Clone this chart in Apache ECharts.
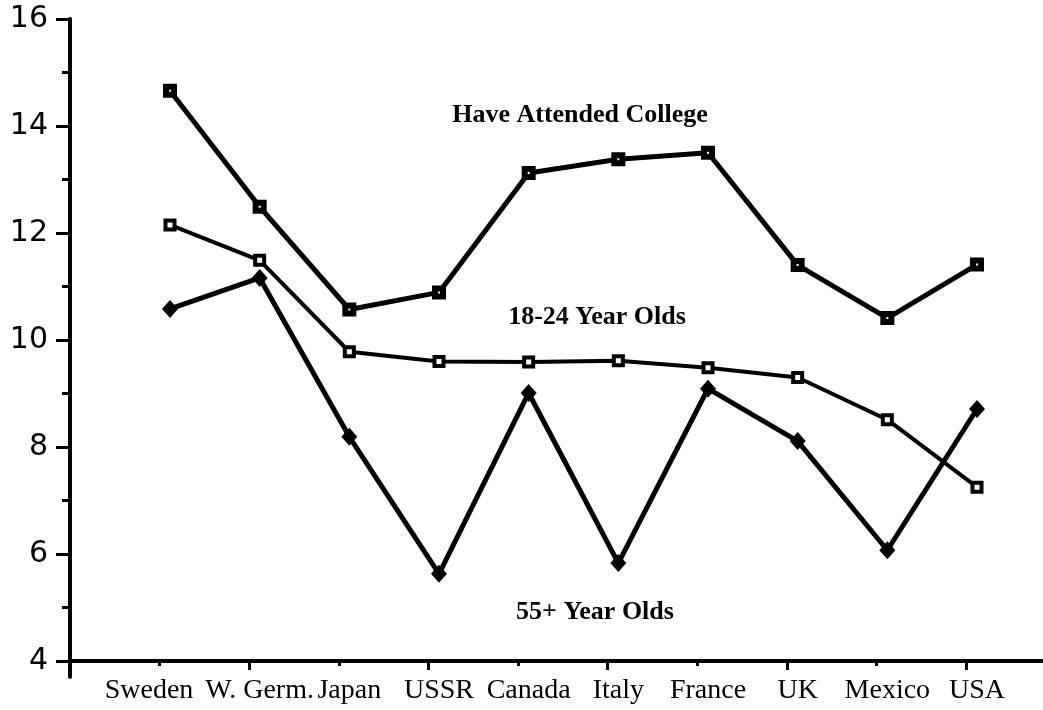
<!DOCTYPE html>
<html>
<head>
<meta charset="utf-8">
<script src="https://cdn.jsdelivr.net/npm/echarts@6/dist/echarts.min.js"></script>
<style>
html,body{margin:0;padding:0;background:#fff;}
#chart{width:1043px;height:710px;}
</style>
</head>
<body>
<div id="chart"></div>
<script>
const categories = ['Sweden', 'W. Germ.', 'Japan', 'USSR', 'Canada', 'Italy', 'France', 'UK', 'Mexico', 'USA'];
const attendedCollege = [14.66, 12.49, 10.57, 10.89, 13.12, 13.38, 13.50, 11.40, 10.41, 11.41];
const age18to24 = [12.15, 11.49, 9.78, 9.60, 9.59, 9.61, 9.48, 9.30, 8.51, 7.25];
const age55plus = [10.58, 11.16, 8.19, 5.63, 9.01, 5.83, 9.09, 8.11, 6.07, 8.71];
const yTicks = { min: 4, max: 16, interval: 2 };
const seriesNames = ['Have Attended College', '18-24 Year Olds', '55+ Year Olds'];

const chart = echarts.init(document.getElementById('chart'), null, { renderer: 'canvas' });
const black = '#000';
const gridTop = 19, gridBottom = 49;
const hiddenAxis = { axisLine: { show: false }, axisTick: { show: false }, axisLabel: { show: false }, splitLine: { show: false } };
const noteFont = 'bold 26px "Liberation Serif"';
function note(text, x, y) {
  return { type: 'text', x: x, y: y, style: { text: text, fill: black, font: noteFont,
    textAlign: 'center', textVerticalAlign: 'middle', align: 'center', verticalAlign: 'middle' } };
}

const option = {
  backgroundColor: '#fff',
  animation: false,
  grid: [
    { left: 70, right: 0, top: gridTop, bottom: gridBottom },
    { left: 170, right: 66, top: gridTop, bottom: gridBottom },
    { left: 70, right: 77, top: gridTop, bottom: gridBottom },
    { left: 70, right: 900, top: 710 - gridBottom, bottom: 33 }
  ],
  xAxis: [
    { gridIndex: 0, type: 'value', min: 0, max: 1,
      axisLine: { show: true, lineStyle: { color: black, width: 4 } },
      axisTick: { show: false }, axisLabel: { show: false }, splitLine: { show: false } },
    { gridIndex: 1, type: 'category', data: categories, boundaryGap: false,
      axisLine: { show: false }, axisTick: { show: false }, splitLine: { show: false },
      axisLabel: { show: true, interval: 0, margin: 16, color: black,
        fontFamily: 'Liberation Serif', fontSize: 28,
        formatter: function (v, i) { return i === 0 ? '{first|' + v + '}' : v; },
        rich: { first: { fontFamily: 'Liberation Serif', fontSize: 28, color: black, padding: [0, 42, 0, 0] } } } },
    { gridIndex: 2, type: 'value', min: 0, max: 10, interval: 2,
      axisLine: { show: false },
      axisTick: { show: true, length: 9, lineStyle: { color: black, width: 3 } },
      minorTick: { show: true, splitNumber: 2, length: 5, lineStyle: { color: black, width: 3 } },
      axisLabel: { show: false }, splitLine: { show: false }, minorSplitLine: { show: false } },
    Object.assign({ gridIndex: 3, type: 'value', min: 0, max: 1 }, hiddenAxis)
  ],
  yAxis: [
    { gridIndex: 0, type: 'value', min: yTicks.min, max: yTicks.max, interval: yTicks.interval,
      axisLine: { show: true, lineStyle: { color: black, width: 4 } },
      axisTick: { show: true, length: 14, lineStyle: { color: black, width: 3 } },
      minorTick: { show: true, splitNumber: 2, length: 8, lineStyle: { color: black, width: 3 } },
      axisLabel: { show: true, margin: 22, color: black, fontFamily: 'DejaVu Sans', fontSize: 30 },
      splitLine: { show: false }, minorSplitLine: { show: false } },
    Object.assign({ gridIndex: 1, type: 'value', min: yTicks.min, max: yTicks.max }, hiddenAxis),
    Object.assign({ gridIndex: 2, type: 'value', min: yTicks.min, max: yTicks.max }, hiddenAxis),
    { gridIndex: 3, type: 'value', min: 0, max: 1,
      axisLine: { show: true, lineStyle: { color: black, width: 4 } },
      axisTick: { show: false }, axisLabel: { show: false }, splitLine: { show: false } }
  ],
  series: [
    { name: seriesNames[0], type: 'line', xAxisIndex: 1, yAxisIndex: 1, data: attendedCollege,
      symbol: 'rect', symbolSize: 8, showAllSymbol: true,
      lineStyle: { color: black, width: 5 },
      itemStyle: { color: '#fff', borderColor: black, borderWidth: 6 } },
    { name: seriesNames[1], type: 'line', xAxisIndex: 1, yAxisIndex: 1, data: age18to24,
      symbol: 'rect', symbolSize: 9, showAllSymbol: true,
      lineStyle: { color: black, width: 4 },
      itemStyle: { color: '#fff', borderColor: black, borderWidth: 4 } },
    { name: seriesNames[2], type: 'line', xAxisIndex: 1, yAxisIndex: 1, data: age55plus,
      symbol: 'diamond', symbolSize: [16, 18], showAllSymbol: true,
      lineStyle: { color: black, width: 5 },
      itemStyle: { color: black } }
  ],
  graphic: [
    note(seriesNames[0], 580, 115),
    note(seriesNames[1], 597, 317),
    note(seriesNames[2], 595, 612)
  ]
};
chart.setOption(option);
</script>
</body>
</html>
